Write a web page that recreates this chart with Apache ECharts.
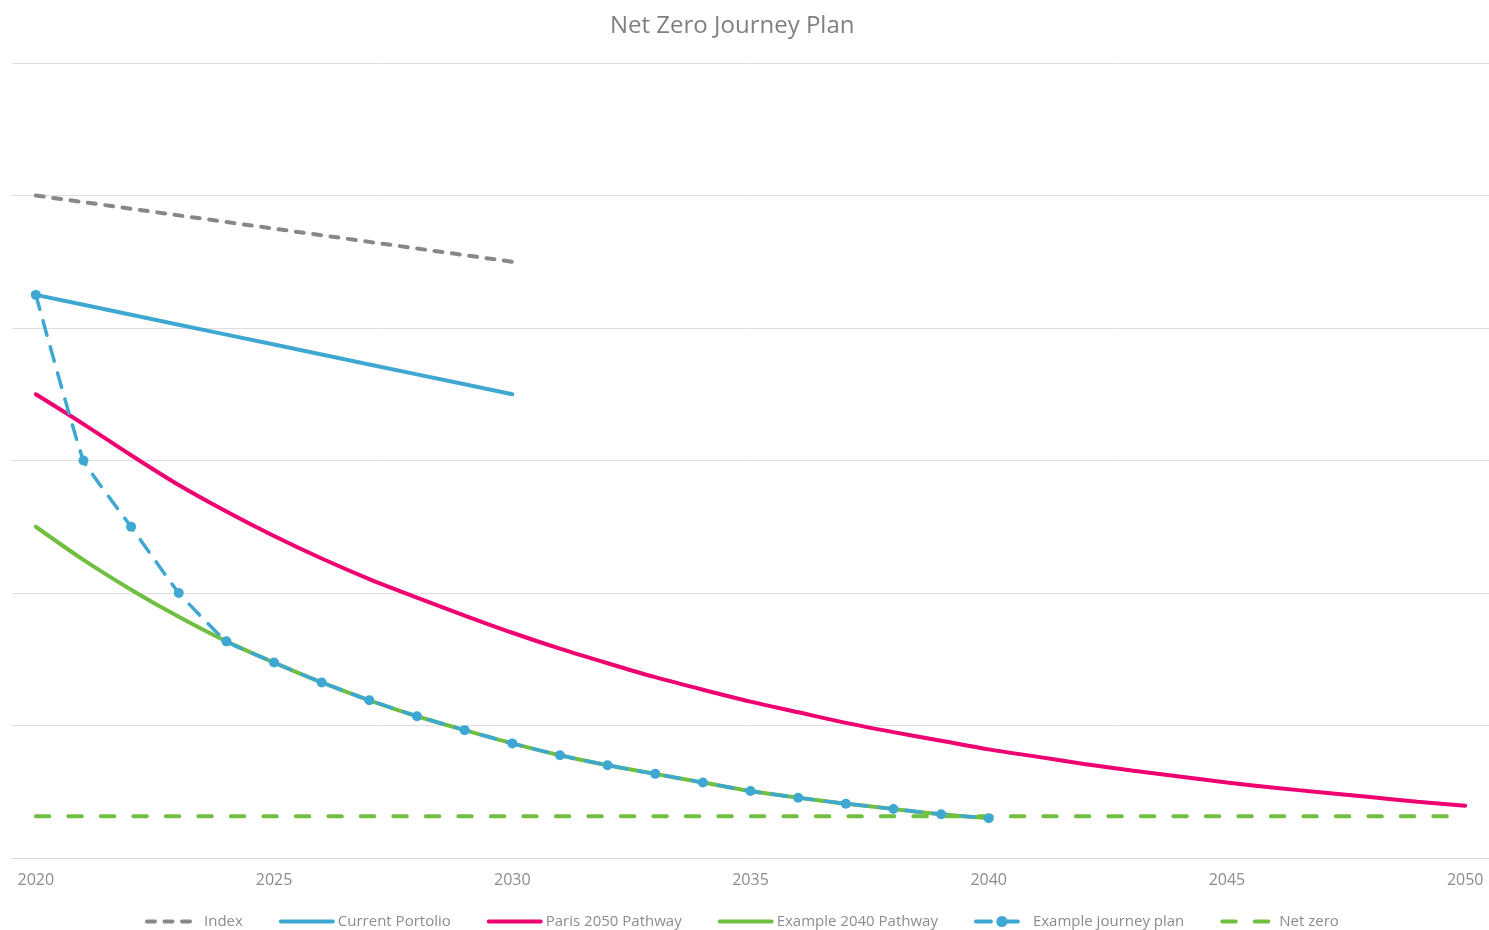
<!DOCTYPE html>
<html>
<head>
<meta charset="utf-8">
<title>Net Zero Journey Plan</title>
<script src="https://cdn.jsdelivr.net/npm/echarts@6/dist/echarts.min.js"></script>
<style>
  html, body { margin: 0; padding: 0; background: #fff; }
  #chart { width: 1489px; height: 930px; }
</style>
</head>
<body>
<div id="chart"></div>
<script>
// years on the x axis
var years = [];
for (var y = 2020; y <= 2050; y++) years.push(String(y));

// values (arbitrary units, axis 0..120)
var indexLine = [100, 99, 98, 97, 96, 95, 94, 93, 92, 91, 90];
var currentPortfolio = [85, 83.5, 82, 80.5, 79, 77.5, 76, 74.5, 73, 71.5, 70];
var paris2050 = [70, 65.5, 60.8, 56.3, 52.3, 48.6, 45.2, 42.1, 39.3, 36.6, 34.0,
                 31.6, 29.4, 27.3, 25.4, 23.6, 22.0, 20.4, 19.0, 17.7, 16.4,
                 15.3, 14.2, 13.2, 12.3, 11.4, 10.6, 9.9, 9.2, 8.5, 7.9];
var example2040 = [50, 45, 40.5, 36.4, 32.7, 29.5, 26.5, 23.8, 21.4, 19.3, 17.3,
                   15.5, 14.0, 12.7, 11.4, 10.1, 9.1, 8.2, 7.4, 6.6, 6.0];
var journeyPlan = [85, 60, 50, 40, 32.7, 29.5, 26.5, 23.8, 21.4, 19.3, 17.3,
                   15.5, 14.0, 12.7, 11.4, 10.1, 9.1, 8.2, 7.4, 6.6, 6.0];
var netZero = years.map(function () { return 6.3; });

var grey = '#878787', blue = '#3ea8d2', pink = '#ef0070', green = '#70bf41';

// legend entries: lines without markers get their circle hidden
var noDot = { opacity: 0 };
var thick = { width: 4 };

var chart = echarts.init(document.getElementById('chart'));
chart.setOption({
  animation: false,
  textStyle: { fontFamily: 'Open Sans, Noto Sans, sans-serif' },
  title: {
    text: 'Net Zero Journey Plan',
    left: 605,
    top: 9,
    textStyle: { color: '#808080', fontSize: 24, fontWeight: 'normal' }
  },
  grid: { left: 12, width: 1481, top: 63, bottom: 72, containLabel: false },
  legend: {
    top: 909,
    left: 140,
    itemWidth: 52,
    itemHeight: 14,
    itemGap: 36,
    textStyle: { color: '#8c8c8c', fontSize: 15 },
    data: [
      { name: 'Index', itemStyle: noDot, lineStyle: thick },
      { name: 'Current Portolio', itemStyle: noDot, lineStyle: thick },
      { name: 'Paris 2050 Pathway', itemStyle: noDot, lineStyle: thick },
      { name: 'Example 2040 Pathway', itemStyle: noDot, lineStyle: thick },
      { name: 'Example journey plan', lineStyle: thick },
      { name: 'Net zero', itemStyle: noDot, lineStyle: thick }
    ]
  },
  xAxis: {
    type: 'category',
    data: years,
    boundaryGap: true,
    axisLine: { lineStyle: { color: '#d9d9d9', width: 1 } },
    axisTick: { show: false },
    axisLabel: { interval: 4, color: '#8c8c8c', fontSize: 16, margin: 14 }
  },
  yAxis: {
    type: 'value',
    min: 0,
    max: 120,
    interval: 20,
    axisLabel: { show: false },
    axisLine: { show: false },
    axisTick: { show: false },
    splitLine: { lineStyle: { color: '#dedede', width: 1 } }
  },
  series: [
    {
      name: 'Index', type: 'line', data: indexLine, symbol: 'none',
      lineStyle: { color: grey, width: 4, type: [8, 9.5], cap: 'round' },
      itemStyle: { color: grey }
    },
    {
      name: 'Current Portolio', type: 'line', data: currentPortfolio, symbol: 'none',
      lineStyle: { color: blue, width: 4, cap: 'round' },
      itemStyle: { color: blue }
    },
    {
      name: 'Paris 2050 Pathway', type: 'line', data: paris2050, symbol: 'none', smooth: 0.3,
      lineStyle: { color: pink, width: 4, cap: 'round' },
      itemStyle: { color: pink }
    },
    {
      name: 'Example 2040 Pathway', type: 'line', data: example2040, symbol: 'none', smooth: 0.3,
      lineStyle: { color: green, width: 4, cap: 'round' },
      itemStyle: { color: green }
    },
    {
      name: 'Example journey plan', type: 'line', data: journeyPlan, smooth: 0.1,
      symbol: 'circle', symbolSize: 10,
      lineStyle: { color: blue, width: 3.5, type: [15, 12], cap: 'round' },
      itemStyle: { color: blue }
    },
    {
      name: 'Net zero', type: 'line', data: netZero, symbol: 'none',
      lineStyle: { color: green, width: 4, type: [13.5, 19], cap: 'round' },
      itemStyle: { color: green }
    }
  ]
});
</script>
</body>
</html>
